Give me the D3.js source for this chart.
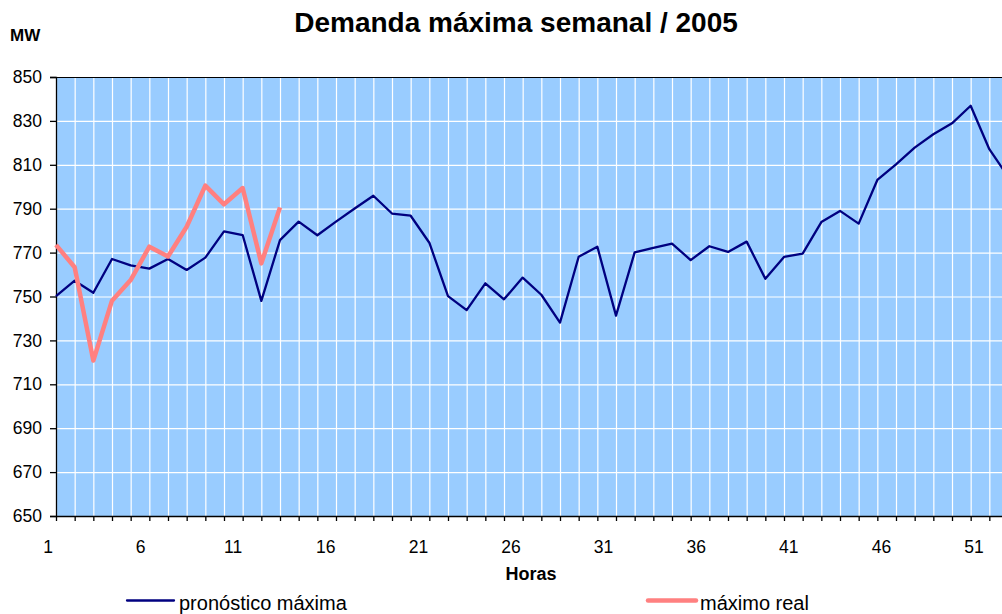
<!DOCTYPE html>
<html>
<head>
<meta charset="utf-8">
<script src="https://cdn.jsdelivr.net/npm/d3@7"></script>
<style>
    body { margin: 0; background: #fff; }
    text { font-family: Arial, 'Liberation Sans', sans-serif; fill: #000; }
</style>
</head>
<body>
<div id="chart"></div>
<script>
// Data
var weeks = d3.range(1, 53);
var pronostico = [750.2, 757.2, 751.7, 767.1, 764.2, 762.7, 767.1, 762.1, 767.7, 779.7,
    778.0, 748.0, 775.7, 784.1, 777.9, 784.1, 790.1, 795.9, 787.8, 786.8,
    774.5, 750.2, 743.8, 756.0, 748.7, 758.6, 750.8, 738.1, 768.1, 772.7,
    741.3, 770.1, 772.1, 774.1, 766.6, 772.9, 770.3, 775.0, 758.1, 768.0,
    769.5, 783.9, 789.0, 783.2, 803.1, 810.2, 817.8, 823.9, 828.9, 836.9,
    817.1, 804.7];
var maximoReal = [773.5, 763.3, 720.8, 748.1, 757.5, 772.7, 768.2, 781.8, 800.5, 792.0,
    799.4, 765.1, 790.6];
var yTicks = d3.range(650, 851, 20);
var xLabels = [1, 6, 11, 16, 21, 26, 31, 36, 41, 46, 51];

var svgWidth = 1002;
var svgHeight = 614;

var svg = d3.select('#chart')
    .append('svg')
    .attr('width', svgWidth)
    .attr('height', svgHeight);

// Plot area (runs past the right edge of the picture)
var margin = { top: 77, left: 56 };
var chartWidth = 952;
var chartHeight = 439;

var chartGroup = svg.append('g')
    .attr('transform', `translate(${margin.left}, ${margin.top})`);

var xScale = d3.scaleLinear()
    .domain([1, 52])
    .range([0, chartWidth]);

var yScale = d3.scaleLinear()
    .domain([650, 850])
    .range([chartHeight, 0]);

// labels sit a little left of their ticks in the original
var xLabelScale = d3.scaleLinear()
    .domain([1, 51])
    .range([-8, 918]);

// Background
chartGroup.append('rect')
    .attr('width', chartWidth)
    .attr('height', chartHeight)
    .attr('fill', '#99ccff');

// Grid lines
chartGroup.append('g')
    .attr('class', 'grid')
    .call(d3.axisLeft(yScale).tickValues(yTicks).tickSize(-chartWidth).tickFormat(''))
    .call((g) => g.select('.domain').remove())
    .selectAll('line')
    .attr('stroke', '#fff')
    .attr('stroke-width', 1.2);

chartGroup.append('g')
    .attr('class', 'grid')
    .attr('transform', `translate(0, ${chartHeight})`)
    .call(d3.axisBottom(xScale).tickValues(weeks).tickSize(-chartHeight).tickFormat(''))
    .call((g) => g.select('.domain').remove())
    .selectAll('line')
    .attr('stroke', '#fff')
    .attr('stroke-width', 1.2);

// Top border
chartGroup.append('line')
    .attr('x1', 0)
    .attr('x2', chartWidth)
    .attr('y1', 0.5)
    .attr('y2', 0.5)
    .attr('stroke', '#000')
    .attr('stroke-width', 1.2);

// Axes
var leftAxis = d3.axisLeft(yScale)
    .tickValues(yTicks)
    .tickSize(6)
    .tickPadding(8);

chartGroup.append('g')
    .call(leftAxis)
    .call((g) => g.selectAll('text').style('font-size', '17.5px').attr('font-family', null))
    .call((g) => g.selectAll('line, path').attr('stroke', '#000').attr('stroke-width', 1.3));

var bottomAxis = d3.axisBottom(xScale)
    .tickValues(weeks)
    .tickSize(5)
    .tickSizeOuter(0)
    .tickFormat('');

chartGroup.append('g')
    .attr('transform', `translate(0, ${chartHeight})`)
    .call(bottomAxis)
    .call((g) => g.selectAll('line, path').attr('stroke', '#000').attr('stroke-width', 1.3));

chartGroup.selectAll('.xLabel')
    .data(xLabels)
    .enter()
    .append('text')
    .attr('class', 'xLabel')
    .attr('x', (d) => xLabelScale(d))
    .attr('y', chartHeight + 37)
    .attr('text-anchor', 'middle')
    .style('font-size', '17.5px')
    .text((d) => d);

// Lines
var lineGen = d3.line()
    .x((d, i) => xScale(weeks[i]))
    .y((d) => yScale(d));

chartGroup.append('path')
    .datum(pronostico)
    .attr('d', lineGen)
    .attr('fill', 'none')
    .attr('stroke', '#000080')
    .attr('stroke-width', 2.3)
    .attr('stroke-linejoin', 'round');

chartGroup.append('path')
    .datum(maximoReal)
    .attr('d', lineGen)
    .attr('fill', 'none')
    .attr('stroke', '#ff8080')
    .attr('stroke-width', 4.5)
    .attr('stroke-linejoin', 'round');

// Titles
svg.append('text')
    .attr('x', 516)
    .attr('y', 32)
    .attr('text-anchor', 'middle')
    .style('font-size', '28px')
    .style('font-weight', 'bold')
    .text('Demanda máxima semanal / 2005');

svg.append('text')
    .attr('x', 10)
    .attr('y', 41)
    .style('font-size', '17px')
    .style('font-weight', 'bold')
    .text('MW');

svg.append('text')
    .attr('x', 531)
    .attr('y', 580)
    .attr('text-anchor', 'middle')
    .style('font-size', '18px')
    .style('font-weight', 'bold')
    .text('Horas');

// Legend
var legendItems = [
    { label: 'pronóstico máxima', color: '#000080', width: 2.3, x1: 127, x2: 174, tx: 179 },
    { label: 'máximo real', color: '#ff8080', width: 4.5, x1: 648, x2: 696, tx: 700 }
];

var legendGroup = svg.selectAll('.legend')
    .data(legendItems)
    .enter()
    .append('g')
    .attr('class', 'legend');

legendGroup.append('line')
    .attr('x1', (d) => d.x1)
    .attr('x2', (d) => d.x2)
    .attr('y1', 600.5)
    .attr('y2', 600.5)
    .attr('stroke', (d) => d.color)
    .attr('stroke-width', (d) => d.width)
    .attr('stroke-linecap', 'round');

legendGroup.append('text')
    .attr('x', (d) => d.tx)
    .attr('y', 610)
    .style('font-size', '20px')
    .text((d) => d.label);
</script>
</body>
</html>
